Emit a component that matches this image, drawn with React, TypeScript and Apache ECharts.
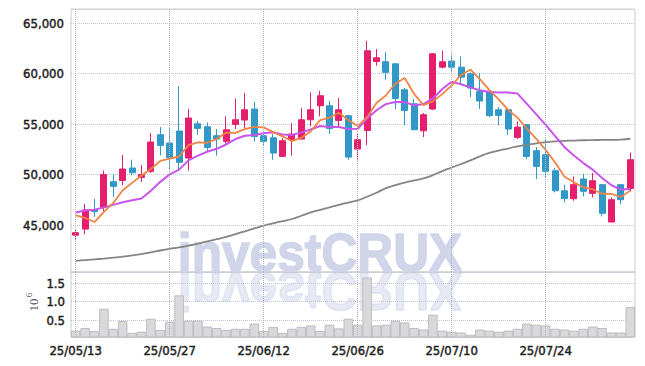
import React, { useEffect, useRef } from 'react';
import * as echarts from 'echarts';

const dates = [
  '25/05/13', '25/05/14', '25/05/15', '25/05/16', '25/05/19', '25/05/20', '25/05/21', '25/05/22', '25/05/23', '25/05/26',
  '25/05/27', '25/05/28', '25/05/29', '25/05/30', '25/06/02', '25/06/04', '25/06/05', '25/06/09', '25/06/10', '25/06/11',
  '25/06/12', '25/06/13', '25/06/16', '25/06/17', '25/06/18', '25/06/19', '25/06/20', '25/06/23', '25/06/24', '25/06/25',
  '25/06/26', '25/06/27', '25/06/30', '25/07/01', '25/07/02', '25/07/03', '25/07/04', '25/07/07', '25/07/08', '25/07/09',
  '25/07/10', '25/07/11', '25/07/14', '25/07/15', '25/07/16', '25/07/17', '25/07/18', '25/07/21', '25/07/22', '25/07/23',
  '25/07/24', '25/07/25', '25/07/28', '25/07/29', '25/07/30', '25/07/31', '25/08/01', '25/08/04', '25/08/05', '25/08/06',
];

const openP = [
  44000, 44600, 46500, 46750, 49300, 49420, 50650, 49720, 50320, 53950,
  53120, 54310, 51640, 55030, 54740, 53850, 53290, 54970, 55400, 56490,
  53850, 53650, 51800, 53450, 53520, 55430, 56820, 56820, 55360, 55830,
  52530, 54370, 61200, 61170, 60970, 58400, 57010, 54340, 56490, 60640,
  61240, 60640, 59980, 58240, 58240, 56420, 56420, 53680, 54940, 52360,
  51970, 50380, 48400, 47610, 49560, 48140, 49000, 45300, 49000, 48630,
];
const closeP = [
  44250, 46500, 46350, 50000, 48830, 50550, 50180, 49990, 53220, 52890,
  51670, 51210, 55600, 54570, 52690, 53520, 54440, 55430, 56420, 53780,
  53290, 52130, 53350, 54010, 55430, 56420, 57810, 54570, 56420, 51730,
  53450, 62260, 61570, 60120, 57540, 56350, 54440, 55930, 61960, 61170,
  60640, 59650, 58570, 57280, 55830, 55860, 54510, 54700, 51800, 50810,
  50320, 48400, 47640, 49000, 48340, 49390, 46160, 47510, 47510, 51470,
];
const lowP = [
  43500, 44100, 45800, 46350, 47750, 48930, 49920, 49260, 50150, 51900,
  50550, 50550, 50380, 53950, 52230, 51870, 53050, 54510, 54600, 53290,
  52920, 51470, 51750, 51870, 53450, 54770, 55760, 54010, 54700, 51470,
  51400, 52920, 60780, 59390, 56490, 54900, 54400, 53710, 56420, 60510,
  60120, 58860, 57670, 56490, 55700, 54900, 53910, 53520, 51540, 49560,
  49750, 48240, 47250, 47410, 47840, 47740, 45860, 45280, 47080, 48340,
];
const highP = [
  44500, 47100, 47580, 50400, 50050, 51930, 51470, 50940, 54110, 54700,
  54600, 58750, 56490, 55330, 55170, 54510, 55760, 57540, 58070, 57210,
  54110, 54040, 53620, 55100, 56590, 58140, 58300, 57310, 57580, 55900,
  54040, 63250, 62430, 62130, 61000, 58570, 57480, 56090, 62030, 62290,
  61900, 61700, 60120, 60050, 58300, 56680, 56450, 55270, 54950, 52720,
  53520, 50650, 49000, 49820, 50080, 50150, 49000, 47740, 49000, 52200,
];

const ma5 = [
  45960, 45700, 45300, 46300, 47190, 48450, 49180, 49910, 50550, 51360,
  51590, 51790, 52920, 53190, 53150, 53520, 54160, 54130, 54500, 54720,
  54670, 54210, 53790, 53310, 53640, 54270, 55400, 55650, 56130, 55390,
  54800, 55690, 57090, 57830, 58990, 59570, 58000, 56880, 57250, 57970,
  58830, 59870, 60400, 59460, 58390, 57440, 56410, 55640, 54540, 53540,
  52430, 51210, 49790, 49230, 48740, 48550, 48100, 48080, 47780, 48410,
];
const ma10 = [
  46250, 46450, 46520, 46750, 47000, 47250, 47450, 47640, 48400, 49280,
  50020, 50490, 51410, 51870, 52260, 52550, 52980, 53520, 53840, 53930,
  54090, 54190, 53960, 53910, 54180, 54470, 54810, 54720, 54720, 54520,
  54530, 55550, 56370, 56980, 57190, 57180, 56850, 56980, 57540, 58480,
  59200, 58940, 58640, 58350, 58180, 58130, 58140, 58020, 57000, 55970,
  54930, 53810, 52710, 51890, 51140, 50490, 49660, 48940, 48510, 48570,
];
const maLong = [
  41460, 41520, 41600, 41680, 41770, 41870, 41990, 42130, 42300, 42480,
  42640, 42780, 42960, 43150, 43380, 43600, 43820, 44100, 44380, 44670,
  44950, 45170, 45390, 45600, 45920, 46250, 46500, 46760, 47000, 47230,
  47450, 47800, 48200, 48650, 48950, 49200, 49420, 49620, 49950, 50350,
  50700, 51050, 51400, 51800, 52150, 52380, 52580, 52800, 52950, 53100,
  53220, 53290, 53340, 53370, 53400, 53420, 53430, 53440, 53470, 53550,
];

// volume in millions (10^6)
const volume = [
  0.22, 0.29, 0.21, 0.81, 0.27, 0.48, 0.16, 0.19, 0.54, 0.24,
  0.46, 1.17, 0.49, 0.49, 0.33, 0.29, 0.24, 0.27, 0.27, 0.41,
  0.21, 0.32, 0.16, 0.27, 0.32, 0.36, 0.21, 0.38, 0.28, 0.54,
  0.38, 1.65, 0.36, 0.38, 0.49, 0.44, 0.29, 0.25, 0.65, 0.22,
  0.19, 0.17, 0.11, 0.25, 0.22, 0.19, 0.22, 0.27, 0.41, 0.38,
  0.36, 0.27, 0.25, 0.22, 0.27, 0.33, 0.29, 0.17, 0.17, 0.86,
];

const labelDates = ['25/05/13', '25/05/27', '25/06/12', '25/06/26', '25/07/10', '25/07/24'];

const RED = '#e61e6e';
const BLUE = '#3298c8';
const FONT = "'DejaVu Sans Condensed', 'Roboto', sans-serif";
const LABEL_COLOR = '#1e1e1e';

export default function App() {
  const ref = useRef<HTMLDivElement>(null);
  useEffect(() => {
    if (!ref.current) return;
    const chart = echarts.init(ref.current, null, { renderer: 'svg' });
    const vLine = {
      symbol: ['none', 'none'],
      silent: true,
      label: { show: false },
      lineStyle: { type: 'dotted', color: '#adb1c6', width: 1 },
      data: labelDates.map((d) => ({ xAxis: d })),
    };
    const labelBase = {
      color: LABEL_COLOR, fontFamily: FONT,
      textBorderColor: LABEL_COLOR, textBorderWidth: 0.45,
    };
    chart.setOption({
      animation: false,
      backgroundColor: '#ffffff',
      grid: [
        { left: 71, right: 10, top: 9, height: 263, show: true, borderColor: '#cccccc', borderWidth: 1 },
        { left: 71, right: 10, top: 272, height: 65, show: true, borderColor: '#cccccc', borderWidth: 1 },
      ],
      graphic: [
        {
          type: 'text', x: 320, y: 271, scaleX: 0.92, z: 0, silent: true,
          style: { text: 'investCRUX', x: 0, y: -19, textAlign: 'center', textVerticalAlign: 'middle',
            font: "bold 54px 'Liberation Sans', Arial, sans-serif", fill: '#d0d5e9',
            stroke: '#d0d5e9', lineWidth: 1.5 },
        },
        {
          type: 'text', x: 320, y: 273, scaleX: 0.92, scaleY: -1, z: 0, silent: true,
          style: { text: 'investCRUX', x: 0, y: -19, textAlign: 'center', textVerticalAlign: 'middle',
            font: "bold 54px 'Liberation Sans', Arial, sans-serif", fill: '#d0d5e9',
            stroke: '#d0d5e9', lineWidth: 1.5, opacity: 0.5 },
        },
        {
          type: 'group', x: 33, y: 302, rotation: Math.PI / 2, silent: true,
          children: [
            { type: 'text', x: -3, y: 0, style: { text: '10', textAlign: 'center', textVerticalAlign: 'middle',
              font: "13px 'Liberation Serif', serif", fill: '#555555' } },
            { type: 'text', x: 7, y: -4, style: { text: '6', textAlign: 'center', textVerticalAlign: 'middle',
              font: "9px 'Liberation Serif', serif", fill: '#555555' } },
          ],
        },
      ],
      xAxis: [
        {
          type: 'category', gridIndex: 0, data: dates, boundaryGap: true,
          axisLine: { show: false }, axisTick: { show: false }, axisLabel: { show: false }, splitLine: { show: false },
        },
        {
          type: 'category', gridIndex: 1, data: dates, boundaryGap: true,
          axisLine: { show: false }, axisTick: { show: false }, splitLine: { show: false },
          axisLabel: { ...labelBase, interval: 9, fontSize: 13, margin: 7 },
        },
      ],
      yAxis: [
        {
          type: 'value', gridIndex: 0, min: 40350, max: 66400, splitNumber: 5, scale: true,
          axisLine: { show: false }, axisTick: { show: false },
          axisLabel: {
            ...labelBase, fontSize: 13, margin: 7,
            showMinLabel: false, showMaxLabel: false,
            formatter: (v: number) => v.toLocaleString('en-US'),
          },
          splitLine: { lineStyle: { type: 'dotted', color: '#c2c5da', width: 1 } },
        },
        {
          type: 'value', gridIndex: 1, min: 0.05, max: 1.8, splitNumber: 3,
          axisLine: { show: false }, axisTick: { show: false },
          axisLabel: {
            ...labelBase, fontSize: 13, margin: 6,
            showMinLabel: false, showMaxLabel: false,
            formatter: (v: number) => v.toFixed(1),
          },
          splitLine: { lineStyle: { type: 'dotted', color: '#c2c5da', width: 1 } },
        },
      ],
      series: [
        {
          type: 'candlestick', xAxisIndex: 0, yAxisIndex: 0, barWidth: '68%',
          data: dates.map((_, i) => [openP[i], closeP[i], lowP[i], highP[i]]),
          itemStyle: { color: RED, color0: BLUE, borderColor: RED, borderColor0: BLUE, borderWidth: 1 },
          markLine: vLine,
        },
        {
          type: 'line', xAxisIndex: 0, yAxisIndex: 0, data: maLong, symbol: 'none', smooth: true,
          lineStyle: { color: '#858585', width: 1.8 }, itemStyle: { color: '#858585' },
        },
        {
          type: 'line', xAxisIndex: 0, yAxisIndex: 0, data: ma10, symbol: 'none',
          lineStyle: { color: '#c954ec', width: 2 }, itemStyle: { color: '#c954ec' },
        },
        {
          type: 'line', xAxisIndex: 0, yAxisIndex: 0, data: ma5, symbol: 'none',
          lineStyle: { color: '#f08345', width: 1.8 }, itemStyle: { color: '#f08345' },
        },
        {
          type: 'bar', xAxisIndex: 1, yAxisIndex: 1, data: volume, barWidth: '100%',
          itemStyle: { color: '#d9d9dc', borderColor: '#b4b4b8', borderWidth: 0.8 },
          markLine: vLine,
        },
      ],
    });
    return () => chart.dispose();
  }, []);
  return (
    <div
      ref={ref}
      style={{ position: 'fixed', left: 0, top: 0, width: 645, height: 366, background: '#fff' }}
    />
  );
}
